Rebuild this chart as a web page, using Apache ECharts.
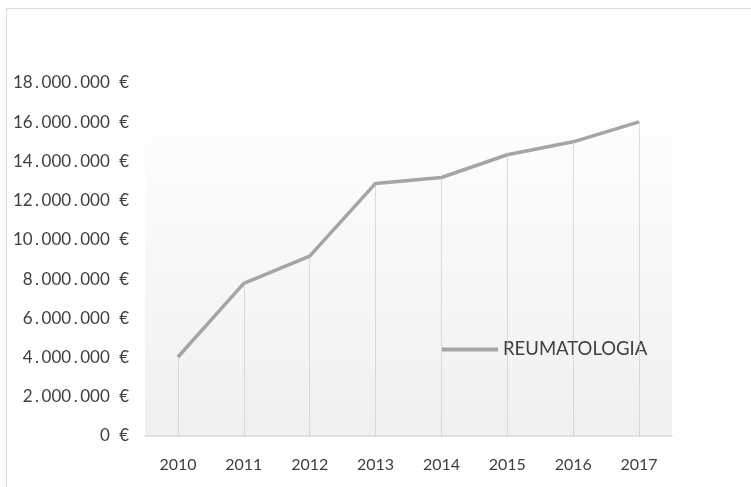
<!DOCTYPE html>
<html>
<head>
<meta charset="utf-8">
<script src="https://cdn.jsdelivr.net/npm/echarts@6/dist/echarts.min.js"></script>
<style>
html,body{margin:0;padding:0;background:#fff;}
#wrap{position:relative;width:751px;height:487px;overflow:hidden;}
#frame{position:absolute;left:6px;top:8px;width:800px;height:600px;border:1.5px solid #d9d9d9;box-sizing:border-box;}
#chart{position:absolute;left:0;top:0;width:751px;height:487px;}
</style>
</head>
<body>
<div id="wrap"><div id="frame"></div><div id="chart"></div></div>
<script>
var categories = ['2010','2011','2012','2013','2014','2015','2016','2017'];
var reumatologia = [4030000, 7780000, 9170000, 12880000, 13180000, 14340000, 15000000, 16020000];
var seriesName = 'REUMATOLOGIA';
var yMin = 0, yMax = 18000000, yStep = 2000000;

function fmt(v){
  var s = String(Math.round(v)).replace(/\B(?=(\d{3})+(?!\d))/g, '.');
  var parts = s.split('.');
  var out = parts.map(function(p){ return '{n|' + p + '}'; }).join('{p|.}');
  return out + '{p| }{n|€}';
}

var drops = reumatologia.map(function(v, i){
  return [{coord:[categories[i], v]}, {coord:[categories[i], 0]}];
});

var chart = echarts.init(document.getElementById('chart'));
chart.setOption({
  animation:false,
  textStyle:{fontFamily:'Lato'},
  grid:{left:145, right:79, top:83, bottom:51, show:true, borderWidth:0,
    backgroundColor:new echarts.graphic.LinearGradient(0,0,0,1,[{offset:0,color:'#ffffff'},{offset:1,color:'#f0f0f0'}])},
  legend:{show:true, left:442, top:340, padding:0, itemWidth:56, itemHeight:4, itemGap:5,
    icon:'rect',
    textStyle:{fontFamily:'Lato', fontSize:18.5, color:'#404040'},
    data:[{name:seriesName, icon:'rect'}]},
  xAxis:{type:'category', data:categories, boundaryGap:true,
    axisLine:{lineStyle:{color:'#d9d9d9', width:1.5}},
    axisTick:{show:false},
    axisLabel:{color:'#404040', fontSize:16, margin:21, fontFamily:'Lato'}},
  yAxis:{type:'value', min:yMin, max:yMax, interval:yStep,
    axisLine:{show:false}, axisTick:{show:false}, splitLine:{show:false},
    axisLabel:{color:'#404040', fontSize:17, margin:16, fontFamily:'Lato', formatter:fmt,
      rich:{
        n:{fontFamily:'Lato', fontSize:17, color:'#404040'},
        p:{fontFamily:'Lato', fontSize:17, color:'#404040', padding:[0,2.5,0,2.5]}
      }}},
  series:[{name:seriesName, type:'line', data:reumatologia, symbol:'none',
    lineStyle:{color:'#a5a5a5', width:3.5}, itemStyle:{color:'#a5a5a5'},
    markLine:{silent:true, symbol:['none','none'], label:{show:false},
      lineStyle:{color:'#bdbdbd', width:1, type:'dotted'}, data:drops}}]
});
</script>
</body>
</html>
